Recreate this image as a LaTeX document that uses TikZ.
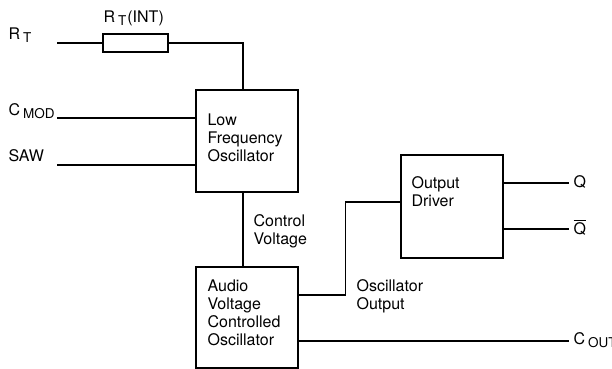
\documentclass[tikz,border=0pt]{standalone}
\usepackage{fontspec}
\setmainfont{TeX Gyre Heros}
\newcommand\lowsub[1]{\kern3pt\raisebox{-3pt}{\fontsize{13.5}{13.5}\selectfont #1}}
\begin{document}
\begin{tikzpicture}[x=1pt, y=-1pt, line width=1.2pt,
    font=\fontsize{16}{18}\selectfont,
    box/.style={draw, rectangle, minimum width=102pt, minimum height=102pt, inner sep=0pt},
    txt/.style={anchor=base west, inner sep=0pt, align=left}]
  \useasboundingbox (0,0) rectangle (612,368);
  % blocks
  \node [box] (lfo) at (247,141) {};
  \node [box, minimum height=101pt] (vco) at (247,317.5) {};
  \node [box, minimum height=103pt] (drv) at (452,206.5) {};
  \node [draw, rectangle, minimum width=65pt, minimum height=18pt, inner sep=0pt] (res) at (135.5,43) {};
  \node [txt] (lfotxt) at (207,161) {Low\\Frequency\\Oscillator};
  \node [txt] (vcotxt) at (207,345) {Audio\\Voltage\\Controlled\\Oscillator};
  \node [txt] (drvtxt) at (411,206) {Output\\Driver};
  % pins
  \coordinate (rtin) at (57,43);
  \coordinate (cmodin) at (57,118);
  \coordinate (sawin) at (57,165);
  \node [txt] (rt) at (8,39) {R\lowsub{T}};
  \node [txt] (rtint) at (103,22) {R\lowsub{T}\kern1pt(INT)};
  \node [txt] (cmod) at (8,115) {C\lowsub{MOD}};
  \node [txt] (saw) at (8,161) {SAW};
  \node [txt] (q) at (573,187) {Q};
  \node [txt] (qbar) at (573,234) {$\overline{\mbox{Q}}$};
  \node [txt] (cout) at (573,344) {C\lowsub{OUT}};
  \node [txt] (ctrl) at (253,244) {Control\\Voltage};
  \node [txt] (oscout) at (356,309) {Oscillator\\Output};
  % wires
  \draw (rtin) -- (res.west);
  \draw (res.east) -| ([xshift=-4pt]lfo.north);
  \draw (cmodin) -- (cmodin -| lfo.west);
  \draw (sawin) -- (sawin -| lfo.west);
  \draw ([xshift=-4pt]lfo.south) -- ([xshift=-4pt]vco.north);
  \draw ([yshift=22.5pt]vco.east) -- ++(47,0) |- ([yshift=4.5pt]drv.west);
  \draw ([yshift=23.5pt]drv.east) -- ++(65,0);
  \draw ([yshift=-22.5pt]drv.east) -- ++(65,0);
  \draw ([yshift=-23.5pt]vco.east) -- ++(270,0);
\end{tikzpicture}
\end{document}
